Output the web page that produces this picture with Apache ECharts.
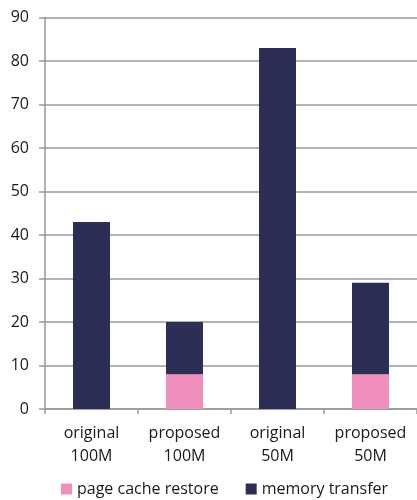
<!DOCTYPE html>
<html>
<head>
<meta charset="utf-8">
<script src="https://cdn.jsdelivr.net/npm/echarts@6/dist/echarts.min.js"></script>
<style>
  html, body { margin: 0; padding: 0; background: #fff; }
  #chart { width: 417px; height: 500px; }
</style>
</head>
<body>
<div id="chart"></div>
<script>
  const categories = ['original\n100M', 'proposed\n100M', 'original\n50M', 'proposed\n50M'];
  const pageCacheRestore = [0, 8, 0, 8];
  const memoryTransfer = [43, 12, 83, 21];

  const chart = echarts.init(document.getElementById('chart'));
  const font = 'Open Sans';
  const option = {
    animation: false,
    grid: {
      left: 45,
      top: 17.5,
      width: 376,
      height: 391.5
    },
    legend: {
      top: 476,
      left: 56,
      itemWidth: 11,
      itemHeight: 11,
      itemGap: 27,
      icon: 'rect',
      textStyle: { fontFamily: font, fontSize: 16, color: '#1a1a1a' },
      data: ['page cache restore', 'memory transfer']
    },
    xAxis: {
      type: 'category',
      data: categories,
      axisLine: { lineStyle: { color: '#999', width: 1.5 } },
      axisTick: { show: true, interval: 0, length: 5, lineStyle: { color: '#999', width: 1.5 } },
      axisLabel: {
        interval: 0,
        fontFamily: font,
        fontSize: 16,
        color: '#1a1a1a',
        lineHeight: 23,
        margin: 13
      }
    },
    yAxis: {
      type: 'value',
      min: 0,
      max: 90,
      interval: 10,
      axisLine: { show: true, lineStyle: { color: '#999', width: 1.5 } },
      axisTick: { show: true, length: 6, lineStyle: { color: '#999', width: 1.5 } },
      splitLine: { lineStyle: { color: '#999', width: 1.5 } },
      axisLabel: { fontFamily: font, fontSize: 16, color: '#1a1a1a', margin: 16 }
    },
    series: [
      {
        name: 'page cache restore',
        type: 'bar',
        stack: 'total',
        barWidth: 37,
        itemStyle: { color: '#ef8fbe' },
        data: pageCacheRestore
      },
      {
        name: 'memory transfer',
        type: 'bar',
        stack: 'total',
        barWidth: 37,
        itemStyle: { color: '#2d2e55' },
        data: memoryTransfer
      }
    ]
  };
  chart.setOption(option);
</script>
</body>
</html>
